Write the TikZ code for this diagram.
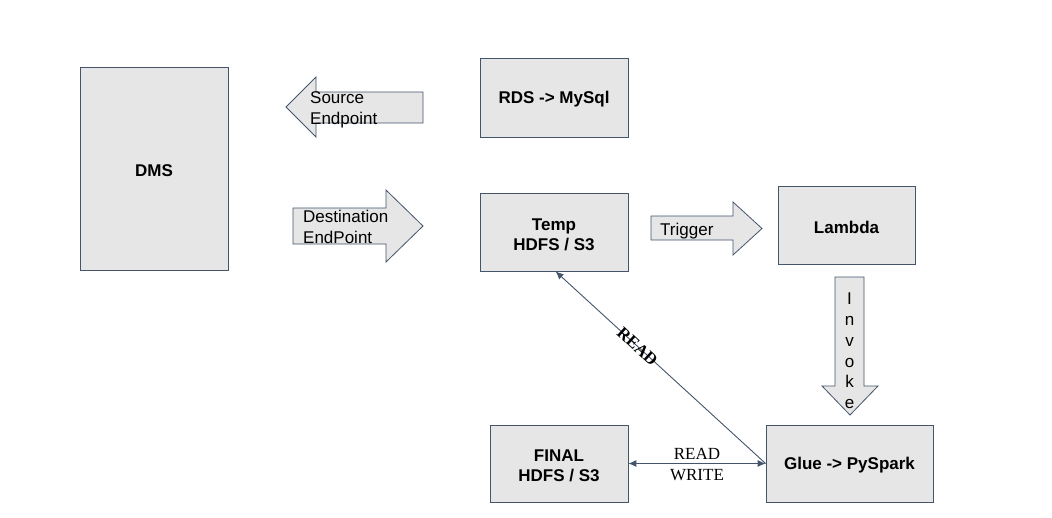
\documentclass[tikz,border=0pt]{standalone}
\usepackage{fontspec}
\setmainfont{Liberation Sans}
\newfontfamily\myserif{Liberation Serif}
\usetikzlibrary{arrows.meta,calc}
\definecolor{boxfill}{HTML}{E6E6E6}
\definecolor{edge}{HTML}{44546A}
\newcommand\bxstrut{\rule{0pt}{16.4pt}}
\begin{document}
\begin{tikzpicture}[x=1pt,y=-1pt,
  box/.style={draw=edge, fill=boxfill, line width=0.8pt, inner sep=0pt, align=center,
    font=\bfseries\fontsize{17}{20}\selectfont},
  blockarrow/.style={draw=edge, fill=boxfill, line width=0.8pt},
  arrowtext/.style={font=\fontsize{17}{21}\selectfont, align=left, inner sep=0pt},
  conn/.style={draw=edge, line width=0.9pt},
  tip/.style={-{Latex[length=8pt,width=7pt]}},
  serlabel/.style={font=\myserif\fontsize{17}{21}\selectfont, inner sep=0pt}]
\useasboundingbox (0,0) rectangle (1052,517);

% boxes
\node[box, minimum width=148pt, minimum height=203pt] (dms) at (154,168.5) {\bxstrut DMS};
\node[box, minimum width=148pt, minimum height=79pt] (rds) at (554,97.5) {\bxstrut RDS -> MySql};
\node[box, minimum width=148pt, minimum height=78pt] (temp) at (554,232) {\bxstrut Temp\\HDFS / S3};
\node[box, minimum width=137pt, minimum height=78pt] (lambda) at (846.5,225) {\bxstrut Lambda};
\node[box, minimum width=138pt, minimum height=77pt] (final) at (559,463.5) {\bxstrut FINAL\\HDFS / S3};
\node[box, minimum width=167pt, minimum height=77pt] (glue) at (849.5,463.5) {\bxstrut Glue -> PySpark};

% block arrows
\draw[blockarrow] (286,107) -- (316,77) -- (316,92) -- (423,92) -- (423,123) -- (316,123) -- (316,137) -- cycle;
\node[arrowtext, anchor=west] (srclbl) at (310,110) {Source\\Endpoint};

\draw[blockarrow] (293,208) -- (386,208) -- (386,190) -- (423,226) -- (386,262) -- (386,244) -- (293,244) -- cycle;
\node[arrowtext, anchor=west] (dstlbl) at (303,227) {Destination\\EndPoint};

\draw[blockarrow] (651,216) -- (733,216) -- (733,202) -- (762,228.5) -- (733,255) -- (733,240) -- (651,240) -- cycle;
\node[arrowtext, anchor=west] (triglbl) at (660,231) {Trigger};

\draw[blockarrow] (835,277) -- (864,277) -- (864,386) -- (878,386) -- (850,415) -- (822,386) -- (835,386) -- cycle;
\node[font=\fontsize{17}{20.8}\selectfont, align=center, inner sep=0pt] (invlbl) at (849.5,351) {I\\n\\v\\o\\k\\e};

% connectors
\coordinate (glueW) at ($(glue.west)$);
\coordinate (tempS) at ($(temp.south west)+(76,0)$);
\draw[conn, tip] (glueW) -- node[serlabel, sloped, pos=0.61, font=\myserif\bfseries\fontsize{17}{21}\selectfont] (readlbl) {READ} (tempS);
\draw[conn, {Latex[length=8pt,width=7pt]}-{Latex[length=8pt,width=7pt]}] (final.east) -- (glueW);
\node[serlabel] (rwlbl1) at (697,454) {READ};
\node[serlabel] (rwlbl2) at (697,475) {WRITE};
\end{tikzpicture}
\end{document}
